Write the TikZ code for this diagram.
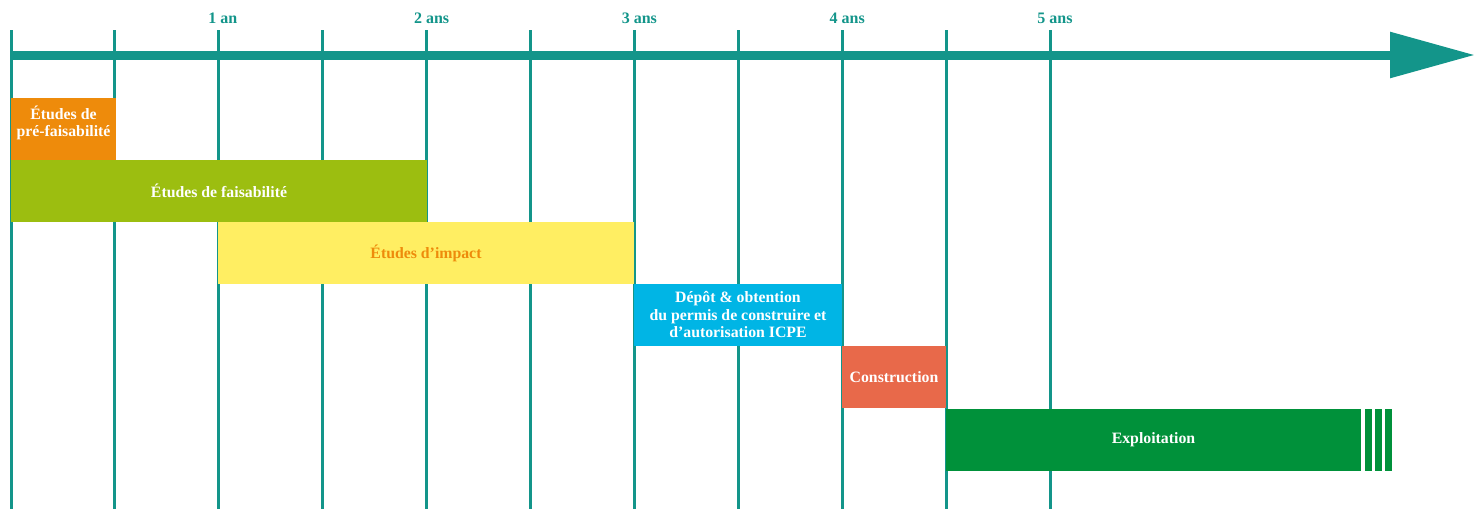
\documentclass[tikz,border=0pt]{standalone}
\usepackage{fontspec}
\setmainfont{Liberation Serif}
\usetikzlibrary{arrows.meta}

\definecolor{axisteal}{HTML}{13958A}
\definecolor{preorange}{HTML}{EE8B0B}
\definecolor{feasgreen}{HTML}{9CBE10}
\definecolor{impactyellow}{HTML}{FFEE62}
\definecolor{permitcyan}{HTML}{00B5E5}
\definecolor{buildred}{HTML}{E8694A}
\definecolor{rungreen}{HTML}{00913A}

\tikzset{
  phase/.style={anchor=north west, inner sep=0pt, outer sep=0pt,
    minimum height=62pt, text=white, align=center,
    font=\fontsize{15.8}{17.5}\selectfont\bfseries},
  yearlabel/.style={text=axisteal, font=\fontsize{16}{18}\selectfont\bfseries}
}

\begin{document}
\begin{tikzpicture}[x=1pt, y=-1pt]

  \useasboundingbox (0,0) rectangle (1484,509) ;

  % grid lines, one every half year
  \foreach \k in {0,...,10}
    \draw [axisteal, line width=3pt] (11+103.9*\k, 30) -- (11+103.9*\k, 509) ;

  % time axis
  \coordinate (start) at (11,55) ;
  \coordinate (tip) at (1475,55) ;
  \draw [axisteal, line width=9pt, -{Triangle[length=85pt, width=44pt]}] (start) -- (tip) ;

  % year labels
  \node [yearlabel] (y1) at (222.8,18) {1 an} ;
  \node [yearlabel] (y2) at (431.6,18) {2 ans} ;
  \node [yearlabel] (y3) at (639.4,18) {3 ans} ;
  \node [yearlabel] (y4) at (847.2,18) {4 ans} ;
  \node [yearlabel] (y5) at (1055,18) {5 ans} ;

  % pre-feasibility
  \node [phase, fill=preorange, minimum width=105pt, text depth=16pt] (prefeas) at (11,98)
    {Études de\\pré-faisabilité} ;

  % feasibility
  \node [phase, fill=feasgreen, minimum width=416pt] (feas) at (11,160)
    {Études de faisabilité} ;

  % impact studies
  \node [phase, fill=impactyellow, text=preorange, minimum width=416pt] (impact) at (218,222)
    {Études d’impact} ;

  % permits
  \node [phase, fill=permitcyan, minimum width=208pt] (permit) at (634,284)
    {Dépôt \& obtention\\du permis de construire et\\d’autorisation ICPE} ;

  % construction
  \node [phase, fill=buildred, minimum width=104pt] (build) at (842,346)
    {Construction} ;

  % operation, open ended
  \node [phase, fill=rungreen, minimum width=415pt] (run) at (946,409)
    {Exploitation} ;
  \foreach \s in {1365,1375,1385}
    \fill [rungreen] (\s,409) rectangle (\s+6.5,471) ;

\end{tikzpicture}
\end{document}
